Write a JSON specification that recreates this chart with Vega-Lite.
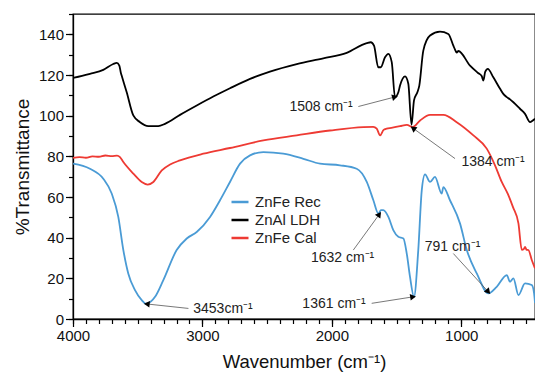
{
  "$schema": "https://vega.github.io/schema/vega-lite/v6.json",
  "width": 462,
  "height": 305,
  "autosize": "none",
  "padding": {"left": 73, "top": 14, "right": 0, "bottom": 54},
  "background": "white",
  "config": {
    "font": "Liberation Sans",
    "view": {"stroke": "#000", "strokeWidth": 1.3},
    "axis": {"domainColor": "#000", "domainWidth": 1.3, "tickColor": "#000", "tickWidth": 1.2, "labelColor": "#111", "titleColor": "#111", "grid": false, "labelFont": "Liberation Sans", "titleFont": "Liberation Sans", "titleFontWeight": "normal", "labelFlush": false, "labelOverlap": false},
    "legend": {"labelFont": "Liberation Sans"}
  },
  "datasets": {
    "spectra": [
      {"s": "ZnAl LDH", "w": 4000, "t": 118.6}, {"s": "ZnAl LDH", "w": 3930, "t": 119.6}, {"s": "ZnAl LDH", "w": 3869, "t": 120.6},
      {"s": "ZnAl LDH", "w": 3766, "t": 122.5}, {"s": "ZnAl LDH", "w": 3689, "t": 125.4}, {"s": "ZnAl LDH", "w": 3662, "t": 126},
      {"s": "ZnAl LDH", "w": 3642, "t": 124.6}, {"s": "ZnAl LDH", "w": 3630, "t": 121}, {"s": "ZnAl LDH", "w": 3624, "t": 119.7},
      {"s": "ZnAl LDH", "w": 3585, "t": 111.5}, {"s": "ZnAl LDH", "w": 3534, "t": 100.1}, {"s": "ZnAl LDH", "w": 3482, "t": 96.8},
      {"s": "ZnAl LDH", "w": 3418, "t": 94.9}, {"s": "ZnAl LDH", "w": 3341, "t": 94.9}, {"s": "ZnAl LDH", "w": 3289, "t": 96},
      {"s": "ZnAl LDH", "w": 3173, "t": 100.4}, {"s": "ZnAl LDH", "w": 3044, "t": 105}, {"s": "ZnAl LDH", "w": 2916, "t": 109.4},
      {"s": "ZnAl LDH", "w": 2787, "t": 113.5}, {"s": "ZnAl LDH", "w": 2632, "t": 118.1}, {"s": "ZnAl LDH", "w": 2478, "t": 121.7},
      {"s": "ZnAl LDH", "w": 2271, "t": 125.4}, {"s": "ZnAl LDH", "w": 2066, "t": 128.2}, {"s": "ZnAl LDH", "w": 1885, "t": 130.9},
      {"s": "ZnAl LDH", "w": 1730, "t": 135.7}, {"s": "ZnAl LDH", "w": 1699, "t": 136.1}, {"s": "ZnAl LDH", "w": 1674, "t": 134.4},
      {"s": "ZnAl LDH", "w": 1641, "t": 123.8}, {"s": "ZnAl LDH", "w": 1622, "t": 123.8}, {"s": "ZnAl LDH", "w": 1589, "t": 128.7},
      {"s": "ZnAl LDH", "w": 1563, "t": 130.4}, {"s": "ZnAl LDH", "w": 1537, "t": 126.3}, {"s": "ZnAl LDH", "w": 1512, "t": 109.1},
      {"s": "ZnAl LDH", "w": 1486, "t": 111.5}, {"s": "ZnAl LDH", "w": 1473, "t": 114.8}, {"s": "ZnAl LDH", "w": 1434, "t": 119.3},
      {"s": "ZnAl LDH", "w": 1409, "t": 115.7}, {"s": "ZnAl LDH", "w": 1384, "t": 95.5}, {"s": "ZnAl LDH", "w": 1365, "t": 107.5},
      {"s": "ZnAl LDH", "w": 1339, "t": 111.5}, {"s": "ZnAl LDH", "w": 1324, "t": 114.8}, {"s": "ZnAl LDH", "w": 1293, "t": 132},
      {"s": "ZnAl LDH", "w": 1241, "t": 139.4}, {"s": "ZnAl LDH", "w": 1164, "t": 141.3}, {"s": "ZnAl LDH", "w": 1100, "t": 140.2},
      {"s": "ZnAl LDH", "w": 1061, "t": 134.4}, {"s": "ZnAl LDH", "w": 1048, "t": 132.5}, {"s": "ZnAl LDH", "w": 1035, "t": 131},
      {"s": "ZnAl LDH", "w": 1022, "t": 131.8}, {"s": "ZnAl LDH", "w": 932, "t": 124.6}, {"s": "ZnAl LDH", "w": 870, "t": 121},
      {"s": "ZnAl LDH", "w": 842, "t": 119.5}, {"s": "ZnAl LDH", "w": 829, "t": 117.3}, {"s": "ZnAl LDH", "w": 815, "t": 121.5},
      {"s": "ZnAl LDH", "w": 795, "t": 123}, {"s": "ZnAl LDH", "w": 752, "t": 118.9}, {"s": "ZnAl LDH", "w": 700, "t": 113.2},
      {"s": "ZnAl LDH", "w": 675, "t": 110.7}, {"s": "ZnAl LDH", "w": 648, "t": 109.1}, {"s": "ZnAl LDH", "w": 623, "t": 108},
      {"s": "ZnAl LDH", "w": 597, "t": 106.6}, {"s": "ZnAl LDH", "w": 546, "t": 103.4}, {"s": "ZnAl LDH", "w": 507, "t": 100.9},
      {"s": "ZnAl LDH", "w": 468, "t": 96.8}, {"s": "ZnAl LDH", "w": 450, "t": 97.5}, {"s": "ZnAl LDH", "w": 430, "t": 98.5},

      {"s": "ZnFe Cal", "w": 4000, "t": 79.2}, {"s": "ZnFe Cal", "w": 3950, "t": 79.6}, {"s": "ZnFe Cal", "w": 3900, "t": 79.3},
      {"s": "ZnFe Cal", "w": 3850, "t": 80.0}, {"s": "ZnFe Cal", "w": 3800, "t": 79.8}, {"s": "ZnFe Cal", "w": 3750, "t": 80.4},
      {"s": "ZnFe Cal", "w": 3700, "t": 80.1}, {"s": "ZnFe Cal", "w": 3660, "t": 80.3}, {"s": "ZnFe Cal", "w": 3637, "t": 79.6},
      {"s": "ZnFe Cal", "w": 3611, "t": 77.2}, {"s": "ZnFe Cal", "w": 3534, "t": 71.5}, {"s": "ZnFe Cal", "w": 3469, "t": 67.4},
      {"s": "ZnFe Cal", "w": 3423, "t": 66.1}, {"s": "ZnFe Cal", "w": 3379, "t": 67.4}, {"s": "ZnFe Cal", "w": 3314, "t": 73.1},
      {"s": "ZnFe Cal", "w": 3250, "t": 76}, {"s": "ZnFe Cal", "w": 3173, "t": 78}, {"s": "ZnFe Cal", "w": 2993, "t": 81.3},
      {"s": "ZnFe Cal", "w": 2787, "t": 84.1}, {"s": "ZnFe Cal", "w": 2529, "t": 87.8}, {"s": "ZnFe Cal", "w": 2271, "t": 90.3},
      {"s": "ZnFe Cal", "w": 2014, "t": 92.7}, {"s": "ZnFe Cal", "w": 1756, "t": 94.4}, {"s": "ZnFe Cal", "w": 1680, "t": 94.5},
      {"s": "ZnFe Cal", "w": 1653, "t": 93.6}, {"s": "ZnFe Cal", "w": 1627, "t": 90.3}, {"s": "ZnFe Cal", "w": 1600, "t": 93},
      {"s": "ZnFe Cal", "w": 1576, "t": 93.6}, {"s": "ZnFe Cal", "w": 1540, "t": 94}, {"s": "ZnFe Cal", "w": 1473, "t": 94.8},
      {"s": "ZnFe Cal", "w": 1420, "t": 95.5}, {"s": "ZnFe Cal", "w": 1375, "t": 94.4}, {"s": "ZnFe Cal", "w": 1318, "t": 97.6},
      {"s": "ZnFe Cal", "w": 1241, "t": 100.4}, {"s": "ZnFe Cal", "w": 1138, "t": 100.4}, {"s": "ZnFe Cal", "w": 1035, "t": 96.8},
      {"s": "ZnFe Cal", "w": 906, "t": 90.3}, {"s": "ZnFe Cal", "w": 803, "t": 83.8}, {"s": "ZnFe Cal", "w": 739, "t": 75.6},
      {"s": "ZnFe Cal", "w": 687, "t": 67.4}, {"s": "ZnFe Cal", "w": 640, "t": 61.5}, {"s": "ZnFe Cal", "w": 600, "t": 55},
      {"s": "ZnFe Cal", "w": 558, "t": 47}, {"s": "ZnFe Cal", "w": 532, "t": 34}, {"s": "ZnFe Cal", "w": 515, "t": 34.5},
      {"s": "ZnFe Cal", "w": 507, "t": 35.5}, {"s": "ZnFe Cal", "w": 495, "t": 34}, {"s": "ZnFe Cal", "w": 481, "t": 33.9},
      {"s": "ZnFe Cal", "w": 455, "t": 29}, {"s": "ZnFe Cal", "w": 430, "t": 24.9},

      {"s": "ZnFe Rec", "w": 4000, "t": 76.4}, {"s": "ZnFe Rec", "w": 3869, "t": 73.9}, {"s": "ZnFe Rec", "w": 3766, "t": 69},
      {"s": "ZnFe Rec", "w": 3701, "t": 61.7}, {"s": "ZnFe Rec", "w": 3650, "t": 50.2}, {"s": "ZnFe Rec", "w": 3611, "t": 33.9},
      {"s": "ZnFe Rec", "w": 3573, "t": 22.4}, {"s": "ZnFe Rec", "w": 3521, "t": 14.2}, {"s": "ZnFe Rec", "w": 3469, "t": 9.3},
      {"s": "ZnFe Rec", "w": 3440, "t": 7.6}, {"s": "ZnFe Rec", "w": 3423, "t": 7.7}, {"s": "ZnFe Rec", "w": 3366, "t": 10.9},
      {"s": "ZnFe Rec", "w": 3302, "t": 19.1}, {"s": "ZnFe Rec", "w": 3199, "t": 33.9}, {"s": "ZnFe Rec", "w": 3121, "t": 39.6},
      {"s": "ZnFe Rec", "w": 3044, "t": 42.8}, {"s": "ZnFe Rec", "w": 2941, "t": 50.2}, {"s": "ZnFe Rec", "w": 2864, "t": 58.4},
      {"s": "ZnFe Rec", "w": 2787, "t": 67.4}, {"s": "ZnFe Rec", "w": 2709, "t": 76.4}, {"s": "ZnFe Rec", "w": 2632, "t": 80.5},
      {"s": "ZnFe Rec", "w": 2529, "t": 82.1}, {"s": "ZnFe Rec", "w": 2375, "t": 81.3}, {"s": "ZnFe Rec", "w": 2220, "t": 78.8},
      {"s": "ZnFe Rec", "w": 2091, "t": 76.4}, {"s": "ZnFe Rec", "w": 1937, "t": 75.6}, {"s": "ZnFe Rec", "w": 1808, "t": 73.9},
      {"s": "ZnFe Rec", "w": 1730, "t": 67.4}, {"s": "ZnFe Rec", "w": 1679, "t": 58.4}, {"s": "ZnFe Rec", "w": 1641, "t": 51.9},
      {"s": "ZnFe Rec", "w": 1620, "t": 53.5}, {"s": "ZnFe Rec", "w": 1602, "t": 53.5}, {"s": "ZnFe Rec", "w": 1563, "t": 50.2},
      {"s": "ZnFe Rec", "w": 1525, "t": 43.7}, {"s": "ZnFe Rec", "w": 1486, "t": 40.4}, {"s": "ZnFe Rec", "w": 1447, "t": 39.6},
      {"s": "ZnFe Rec", "w": 1421, "t": 32.2}, {"s": "ZnFe Rec", "w": 1396, "t": 20.8}, {"s": "ZnFe Rec", "w": 1365, "t": 10.9},
      {"s": "ZnFe Rec", "w": 1332, "t": 33.9}, {"s": "ZnFe Rec", "w": 1305, "t": 63.3}, {"s": "ZnFe Rec", "w": 1280, "t": 71.1},
      {"s": "ZnFe Rec", "w": 1241, "t": 67.4}, {"s": "ZnFe Rec", "w": 1203, "t": 69.9}, {"s": "ZnFe Rec", "w": 1151, "t": 61.7},
      {"s": "ZnFe Rec", "w": 1138, "t": 64.9}, {"s": "ZnFe Rec", "w": 1087, "t": 58.4}, {"s": "ZnFe Rec", "w": 1009, "t": 46.9},
      {"s": "ZnFe Rec", "w": 957, "t": 33.9}, {"s": "ZnFe Rec", "w": 880, "t": 22.4}, {"s": "ZnFe Rec", "w": 790, "t": 12.6},
      {"s": "ZnFe Rec", "w": 726, "t": 15.8}, {"s": "ZnFe Rec", "w": 648, "t": 21.6}, {"s": "ZnFe Rec", "w": 623, "t": 18.3},
      {"s": "ZnFe Rec", "w": 597, "t": 20}, {"s": "ZnFe Rec", "w": 558, "t": 11.8}, {"s": "ZnFe Rec", "w": 507, "t": 17.5},
      {"s": "ZnFe Rec", "w": 455, "t": 16.7}, {"s": "ZnFe Rec", "w": 437, "t": 12.6}, {"s": "ZnFe Rec", "w": 430, "t": 7.9}
    ],
    "notes": [
      {"label": "1508 cm⁻¹", "tx": 2083, "ty": 104.2, "x1": 1795, "y1": 104.5, "x2": 1512, "y2": 109.2},
      {"label": "1384 cm⁻¹", "tx": 754, "ty": 77.2, "x1": 1048, "y1": 78.9, "x2": 1372, "y2": 93.8},
      {"label": "1632 cm⁻¹", "tx": 1917, "ty": 29.8, "x1": 1834, "y1": 33.9, "x2": 1633, "y2": 51.5},
      {"label": "1361 cm⁻¹", "tx": 1983, "ty": 7.4, "x1": 1692, "y1": 7.7, "x2": 1372, "y2": 10.9},
      {"label": "3453cm⁻¹", "tx": 2841, "ty": 4.8, "x1": 3108, "y1": 5.2, "x2": 3430, "y2": 7.4},
      {"label": "791 cm⁻¹", "tx": 1067, "ty": 35.5, "x1": 1061, "y1": 32.2, "x2": 791, "y2": 13.4}
    ]
  },
  "data": {"name": "spectra"},
  "resolve": {"axis": {"x": "independent", "y": "independent"}},
  "layer": [
    {
      "mark": {"type": "point", "opacity": 0},
      "encoding": {
        "x": {"field": "w", "type": "quantitative", "scale": {"domain": [430, 4000], "reverse": true, "nice": false, "zero": false},
          "axis": {"orient": "bottom", "values": [4000, 3900, 3800, 3700, 3600, 3500, 3400, 3300, 3200, 3100, 3000, 2900, 2800, 2700, 2600, 2500, 2400, 2300, 2200, 2100, 2000, 1900, 1800, 1700, 1600, 1500, 1400, 1300, 1200, 1100, 1000, 900, 800, 700, 600, 500], "labels": false, "tickSize": 4.5, "domain": false, "title": null}},
        "y": {"field": "t", "type": "quantitative", "scale": {"domain": [0, 150], "nice": false, "zero": false},
          "axis": {"orient": "left", "values": [0, 10, 20, 30, 40, 50, 60, 70, 80, 90, 100, 110, 120, 130, 140, 150], "labels": false, "tickSize": 4.5, "domain": false, "title": null}}
      }
    },
    {
      "mark": {"type": "line", "strokeWidth": 1.8, "clip": true, "interpolate": "monotone"},
      "encoding": {
        "x": {"field": "w", "type": "quantitative",
          "axis": {"orient": "bottom", "values": [4000, 3000, 2000, 1000], "tickSize": 7.5, "labelFontSize": 15, "labelPadding": 2, "title": "Wavenumber (cm⁻¹)", "titleFontSize": 18.5, "titlePadding": 9, "format": "d"}},
        "y": {"field": "t", "type": "quantitative",
          "axis": {"orient": "left", "values": [0, 20, 40, 60, 80, 100, 120, 140], "tickSize": 7.5, "labelFontSize": 15, "labelPadding": 2, "title": "%Transmittance", "titleFontSize": 19, "titlePadding": 6}},
        "color": {"field": "s", "type": "nominal",
          "scale": {"domain": ["ZnFe Rec", "ZnAl LDH", "ZnFe Cal"], "range": ["#4a9bd5", "#000000", "#ee3a33"]},
          "legend": {"title": null, "orient": "none", "legendX": 157, "legendY": 178, "padding": 0, "symbolType": "stroke", "symbolSize": 289, "symbolStrokeWidth": 2.5, "labelFontSize": 15, "labelColor": "#222", "labelOffset": 5, "rowPadding": 0}},
        "detail": {"field": "s"}
      }
    },
    {
      "data": {"name": "notes"},
      "mark": {"type": "rule", "color": "#555", "strokeWidth": 0.8},
      "encoding": {
        "x": {"field": "x1", "type": "quantitative", "axis": null},
        "y": {"field": "y1", "type": "quantitative", "axis": null},
        "x2": {"field": "x2"},
        "y2": {"field": "y2"}
      }
    },
    {
      "data": {"name": "notes"},
      "transform": [{"calculate": "atan2((datum.x1 - datum.x2) * 0.1294, (datum.y2 - datum.y1) * 2.033) * 180 / PI", "as": "ang"}],
      "mark": {"type": "point", "shape": "triangle-up", "filled": true, "color": "#000", "size": 45, "opacity": 1},
      "encoding": {
        "x": {"field": "x2", "type": "quantitative", "axis": null},
        "y": {"field": "y2", "type": "quantitative", "axis": null},
        "angle": {"field": "ang", "type": "quantitative", "scale": null}
      }
    },
    {
      "data": {"name": "notes"},
      "mark": {"type": "text", "fontSize": 14, "color": "#222", "align": "center", "baseline": "middle", "font": "Liberation Sans"},
      "encoding": {
        "x": {"field": "tx", "type": "quantitative", "axis": null},
        "y": {"field": "ty", "type": "quantitative", "axis": null},
        "text": {"field": "label"}
      }
    }
  ]
}
